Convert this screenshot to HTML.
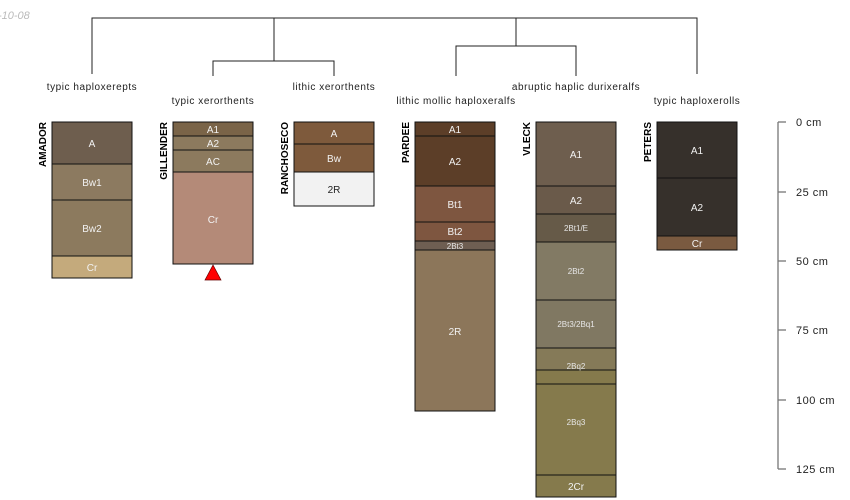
<!DOCTYPE html>
<html><head><meta charset="utf-8"><style>
html,body{margin:0;padding:0;background:#fff;width:850px;height:500px;overflow:hidden}
svg{display:block;font-family:"Liberation Sans",sans-serif}
.h{stroke:#111;stroke-width:1}
.t{font-size:10px;fill:#f2f2f2;text-anchor:middle}
.s{font-size:8px;fill:#e6e6e6;text-anchor:middle}
.n{font-size:10px;font-weight:bold;fill:#000}
.c{font-size:10px;fill:#222;text-anchor:middle;letter-spacing:0.55px}
.ax{font-size:11px;fill:#222;letter-spacing:0.5px}
</style></head><body>
<svg width="850" height="500" viewBox="0 0 850 500">
<text x="-2" y="19" font-size="11" font-style="italic" fill="#bbb">-10-08</text>
<g stroke="#222" stroke-width="1" fill="none">
<path d="M92 74V18H697V74"/>
<path d="M274 18V61M213 76V61H334V76"/>
<path d="M516 18V46M456 76V46H576V76"/>
</g>
<text class="c" x="92" y="90">typic haploxerepts</text>
<text class="c" x="213" y="104">typic xerorthents</text>
<text class="c" x="334" y="90">lithic xerorthents</text>
<text class="c" x="456" y="104">lithic mollic haploxeralfs</text>
<text class="c" x="576" y="90">abruptic haplic durixeralfs</text>
<text class="c" x="697" y="104">typic haploxerolls</text>

<g class="h">
<rect x="52" y="122" width="80" height="42" fill="#6e5e4e"/>
<rect x="52" y="164" width="80" height="36" fill="#8c7a60"/>
<rect x="52" y="200" width="80" height="56" fill="#8c7a5e"/>
<rect x="52" y="256" width="80" height="22" fill="#c4aa7c"/>
</g>
<text class="t" x="92" y="147">A</text><text class="t" x="92" y="186">Bw1</text><text class="t" x="92" y="232">Bw2</text><text class="t" x="92" y="271">Cr</text>
<text class="n" transform="translate(46,122) rotate(-90)" text-anchor="end">AMADOR</text>

<g class="h">
<rect x="173" y="122" width="80" height="14" fill="#7a6448"/>
<rect x="173" y="136" width="80" height="14" fill="#8c7a5e"/>
<rect x="173" y="150" width="80" height="22" fill="#8c7a5e"/>
<rect x="173" y="172" width="80" height="92" fill="#b48a78"/>
</g>
<text class="t" x="213" y="133">A1</text><text class="t" x="213" y="147">A2</text><text class="t" x="213" y="165">AC</text><text class="t" x="213" y="223">Cr</text>
<polygon points="213,265 205,280 221,280" fill="#f00" stroke="#600" stroke-width="0.7"/>
<text class="n" transform="translate(167,122) rotate(-90)" text-anchor="end">GILLENDER</text>

<g class="h">
<rect x="294" y="122" width="80" height="22" fill="#7e5a3c"/>
<rect x="294" y="144" width="80" height="28" fill="#7e5a3c"/>
<rect x="294" y="172" width="80" height="34" fill="#f2f2f2"/>
</g>
<text class="t" x="334" y="137">A</text><text class="t" x="334" y="162">Bw</text><text x="334" y="193" font-size="10" text-anchor="middle" fill="#222">2R</text>
<text class="n" transform="translate(288,122) rotate(-90)" text-anchor="end">RANCHOSECO</text>

<g class="h">
<rect x="415" y="122" width="80" height="14" fill="#5c3e28"/>
<rect x="415" y="136" width="80" height="50" fill="#5c3e28"/>
<rect x="415" y="186" width="80" height="36" fill="#7e5640"/>
<rect x="415" y="222" width="80" height="19" fill="#7e5640"/>
<rect x="415" y="241" width="80" height="9" fill="#6e5e52"/>
<rect x="415" y="250" width="80" height="161" fill="#8c765a"/>
</g>
<text class="t" x="455" y="133">A1</text><text class="t" x="455" y="165">A2</text><text class="t" x="455" y="208">Bt1</text><text class="t" x="455" y="235">Bt2</text><text class="s" x="455" y="249">2Bt3</text><text class="t" x="455" y="335">2R</text>
<text class="n" transform="translate(409,122) rotate(-90)" text-anchor="end">PARDEE</text>

<g class="h">
<rect x="536" y="122" width="80" height="64" fill="#6e5e4e"/>
<rect x="536" y="186" width="80" height="28" fill="#6a5a4a"/>
<rect x="536" y="214" width="80" height="28" fill="#665a48"/>
<rect x="536" y="242" width="80" height="58" fill="#827a64"/>
<rect x="536" y="300" width="80" height="48" fill="#807862"/>
<rect x="536" y="348" width="80" height="22" fill="#857a58"/>
<rect x="536" y="370" width="80" height="14" fill="#857a4c"/>
<rect x="536" y="384" width="80" height="91" fill="#857a4c"/>
<rect x="536" y="475" width="80" height="22" fill="#857a4c"/>
</g>
<text class="t" x="576" y="158">A1</text><text class="t" x="576" y="204">A2</text><text class="s" x="576" y="231">2Bt1/E</text><text class="s" x="576" y="274">2Bt2</text><text class="s" x="576" y="327">2Bt3/2Bq1</text><text class="s" x="576" y="369">2Bq2</text><text class="s" x="576" y="425">2Bq3</text><text class="t" x="576" y="490">2Cr</text>
<text class="n" transform="translate(530,122) rotate(-90)" text-anchor="end">VLECK</text>

<g class="h">
<rect x="657" y="122" width="80" height="56" fill="#36302b"/>
<rect x="657" y="178" width="80" height="58" fill="#36302b"/>
<rect x="657" y="236" width="80" height="14" fill="#7a5a40"/>
</g>
<text class="t" x="697" y="154">A1</text><text class="t" x="697" y="211">A2</text><text class="t" x="697" y="247">Cr</text>
<text class="n" transform="translate(651,122) rotate(-90)" text-anchor="end">PETERS</text>

<g stroke="#777" stroke-width="1.3">
<line x1="778" y1="122" x2="778" y2="469"/>
<line x1="778" y1="122" x2="786" y2="122"/>
<line x1="778" y1="192" x2="786" y2="192"/>
<line x1="778" y1="261" x2="786" y2="261"/>
<line x1="778" y1="330" x2="786" y2="330"/>
<line x1="778" y1="400" x2="786" y2="400"/>
<line x1="778" y1="469" x2="786" y2="469"/>
</g>
<text class="ax" x="796" y="126">0 cm</text>
<text class="ax" x="796" y="196">25 cm</text>
<text class="ax" x="796" y="265">50 cm</text>
<text class="ax" x="796" y="334">75 cm</text>
<text class="ax" x="796" y="404">100 cm</text>
<text class="ax" x="796" y="473">125 cm</text>
</svg>
</body></html>
